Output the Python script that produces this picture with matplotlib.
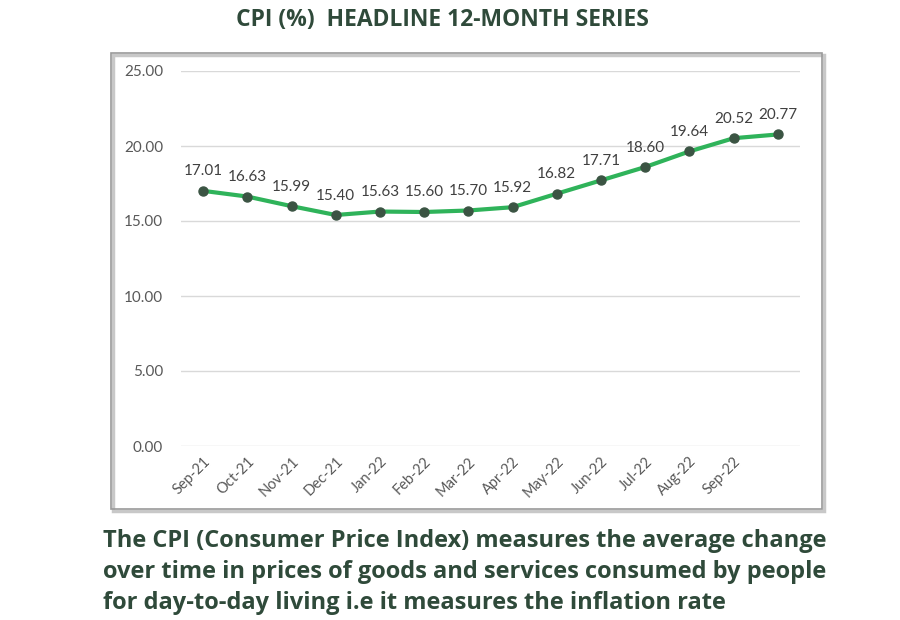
import matplotlib.pyplot as plt
from matplotlib.patches import Rectangle

months = ['Sep-21', 'Oct-21', 'Nov-21', 'Dec-21', 'Jan-22', 'Feb-22', 'Mar-22',
          'Apr-22', 'May-22', 'Jun-22', 'Jul-22', 'Aug-22', 'Sep-22', '']
cpi = [17.01, 16.63, 15.99, 15.40, 15.63, 15.60, 15.70,
       15.92, 16.82, 17.71, 18.60, 19.64, 20.52, 20.77]
yticks = [0, 5, 10, 15, 20, 25]

text_color = '#2f4a3a'
plt.rcParams['font.family'] = ['Lato', 'DejaVu Sans']

fig = plt.figure(figsize=(9, 6.2), dpi=100)
fig.patch.set_facecolor('white')

# outer chart frame
fig.patches.append(Rectangle((113 / 900, 1 - 511 / 620), 711 / 900, 456 / 620,
                             transform=fig.transFigure, fill=False,
                             edgecolor='#c8c8c8', linewidth=2.5, zorder=0))
fig.patches.append(Rectangle((111 / 900, 1 - 509 / 620), 711 / 900, 456 / 620,
                             transform=fig.transFigure, fill=False,
                             edgecolor='#9a9a9a', linewidth=1.2, zorder=1))

ax = fig.add_axes([181 / 900, 1 - 446 / 620, 619 / 900, 375 / 620])
x = list(range(len(cpi)))
ax.plot(x, cpi, color='#2fb35a', linewidth=3, zorder=3)
ax.plot(x, cpi, linestyle='none', marker='o', markersize=6.5,
        color='#3b5443', zorder=4)

for xi, v in zip(x, cpi):
    ax.annotate(f'{v:.2f}', (xi, v), xytext=(0, 9), textcoords='offset points',
                ha='center', va='bottom', fontsize=11, color='#404040')

ax.set_xlim(-0.5, 13.5)
ax.set_ylim(0, 25)
ax.set_yticks(yticks)
ax.set_yticklabels([f'{t:.2f}' for t in yticks])
ax.set_xticks(x)
ax.set_xticklabels(months, rotation=45, ha='right', rotation_mode='anchor')
ax.tick_params(axis='both', length=0, colors='#595959')
ax.tick_params(axis='y', pad=13, labelsize=11)
ax.tick_params(axis='x', pad=6, labelsize=10.5)
ax.grid(axis='y', color='#d9d9d9', linewidth=1)
ax.set_axisbelow(True)
for s in ax.spines.values():
    s.set_visible(False)

fig.text(442 / 900, 1 - 20 / 620, 'CPI (%)  HEADLINE 12-MONTH SERIES',
         ha='center', va='center', fontsize=16.5, fontweight='bold',
         color=text_color, family='Open Sans')

lines = ['The CPI (Consumer Price Index) measures the average change',
         'over time in prices of goods and services consumed by people',
         'for day-to-day living i.e it measures the inflation rate']
for i, line in enumerate(lines):
    fig.text(103 / 900, 1 - (541 + 31 * i) / 620, line, ha='left', va='center',
             fontsize=17, fontweight='bold', color=text_color,
             family='Open Sans')

fig.savefig('out.png', dpi=100)
